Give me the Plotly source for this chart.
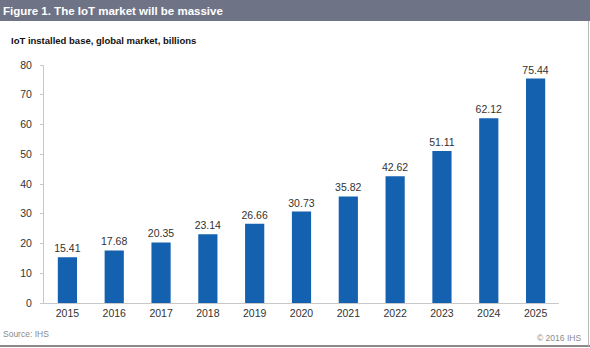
import plotly.graph_objects as go

# IoT installed base, global market (billions of devices)
years = ["2015", "2016", "2017", "2018", "2019", "2020", "2021", "2022", "2023", "2024", "2025"]
installed_base = [15.41, 17.68, 20.35, 23.14, 26.66, 30.73, 35.82, 42.62, 51.11, 62.12, 75.44]
y_ticks = [0, 10, 20, 30, 40, 50, 60, 70, 80]

W, H = 590, 348
M_L, M_R, M_T, M_B = 44, 31, 65, 45
PW, PH = W - M_L - M_R, H - M_T - M_B


def px(x):
    return (x - M_L) / PW


def py(y):
    return (H - M_B - y) / PH


fig = go.Figure(
    go.Bar(
        x=years,
        y=installed_base,
        marker=dict(color="#1461b0", line=dict(width=0)),
        width=0.41,
        text=[f"{v:.2f}" for v in installed_base],
        textposition="outside",
        constraintext="none",
        textfont=dict(family="Liberation Sans, Arial", size=10.5, color="#333333"),
        cliponaxis=False,
        hoverinfo="skip",
    )
)

shapes = [
    # header band
    dict(type="rect", xref="paper", yref="paper", x0=px(-2), x1=px(W + 2), y0=py(0 - 2), y1=py(21),
         fillcolor="#6e7386", line=dict(width=0), layer="below"),
    # bottom rule
    dict(type="line", xref="paper", yref="paper", x0=px(-2), x1=px(W + 2), y0=py(346), y1=py(346),
         line=dict(color="#8a8a8a", width=2)),
    # right frame edge
    dict(type="line", xref="paper", yref="paper", x0=px(588.5), x1=px(588.5), y0=py(21), y1=py(346),
         line=dict(color="#b8b8b8", width=1)),
]

annotations = [
    dict(text="<b>Figure 1. The IoT market will be massive</b>", xref="paper", yref="paper",
         x=px(1), y=py(11), xanchor="left", yanchor="middle", showarrow=False,
         font=dict(family="Liberation Sans, Arial", size=11.5, color="#ffffff")),
    dict(text="<b>IoT installed base, global market, billions</b>", xref="paper", yref="paper",
         x=px(9), y=py(41), xanchor="left", yanchor="middle", showarrow=False,
         font=dict(family="Liberation Sans, Arial", size=9.5, color="#111111")),
    dict(text="Source: IHS", xref="paper", yref="paper",
         x=px(1), y=py(334), xanchor="left", yanchor="middle", showarrow=False,
         font=dict(family="Liberation Sans, Arial", size=8.5, color="#8a8a8a")),
    dict(text="© 2016 IHS", xref="paper", yref="paper",
         x=px(583), y=py(338), xanchor="right", yanchor="middle", showarrow=False,
         font=dict(family="Liberation Sans, Arial", size=8.5, color="#8a8a8a")),
]

fig.update_layout(
    width=W,
    height=H,
    margin=dict(l=M_L, r=M_R, t=M_T, b=M_B, pad=0),
    paper_bgcolor="#ffffff",
    plot_bgcolor="#ffffff",
    showlegend=False,
    shapes=shapes,
    annotations=annotations,
    bargap=0.59,
    xaxis=dict(
        type="category",
        showgrid=False,
        showline=True,
        linecolor="#c8c8c8",
        linewidth=1,
        ticks="",
        tickfont=dict(family="Liberation Sans, Arial", size=10.5, color="#333333"),
        fixedrange=True,
    ),
    yaxis=dict(
        range=[0, 80],
        tickvals=y_ticks,
        showgrid=False,
        zeroline=False,
        showline=True,
        linecolor="#c8c8c8",
        linewidth=1,
        ticks="outside",
        ticklen=3,
        tickcolor="#c8c8c8",
        ticklabelstandoff=6,
        tickfont=dict(family="Liberation Sans, Arial", size=10.5, color="#333333"),
        fixedrange=True,
    ),
)

fig.write_html("out.html", config={"displayModeBar": False})
